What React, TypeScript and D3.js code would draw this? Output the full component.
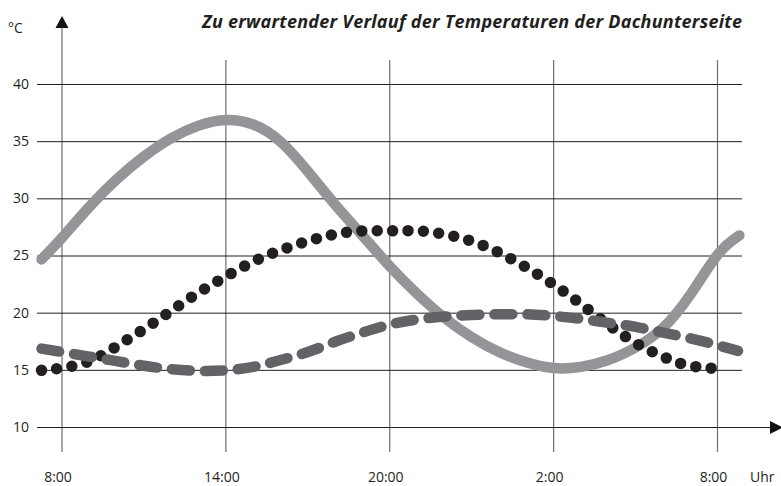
import React from 'react';
import * as d3 from 'd3';

// hours after 8:00 -> °C
const roofSurface: [number, number][] = [
  [-0.75, 24.7], [0, 26.6], [1, 29.3], [2, 31.7], [3, 33.7], [4, 35.3], [5, 36.4],
  [6, 36.9], [7, 36.5], [8, 35.0], [9, 32.4], [10, 29.5], [11, 26.8], [12, 24.1],
  [13, 21.7], [14, 19.6], [15, 17.9], [16, 16.6], [17, 15.7], [18, 15.2], [19, 15.3],
  [20, 15.9], [21, 17.0], [22, 18.7], [23, 21.6], [24, 25.1], [24.8, 26.8],
];

const dotted: [number, number][] = [
  [-0.75, 15.0], [0, 15.2], [1, 15.8], [2, 17.1], [3, 18.6], [4, 20.2], [5, 21.8],
  [6, 23.2], [7, 24.5], [8, 25.5], [9, 26.3], [10, 26.9], [11, 27.2], [12, 27.2],
  [13, 27.2], [14, 26.9], [15, 26.3], [16, 25.3], [17, 24.0], [18, 22.5], [19, 20.8],
  [20, 19.0], [21, 17.4], [22, 16.2], [23, 15.4], [24, 15.15], [24.3, 15.0],
];

const underside: [number, number][] = [
  [-0.75, 16.9], [0, 16.6], [1, 16.2], [2, 15.8], [3, 15.4], [4, 15.1], [5, 14.95],
  [6, 15.0], [7, 15.3], [8, 15.9], [9, 16.6], [10, 17.5], [11, 18.3], [12, 19.0],
  [13, 19.45], [14, 19.7], [15, 19.85], [16, 19.9], [17, 19.9], [18, 19.75], [19, 19.5],
  [20, 19.15], [21, 18.8], [22, 18.3], [23, 17.8], [24, 17.2], [24.75, 16.7],
];

const xTicks = [0, 6, 12, 18, 24];
const xLabels = ['8:00', '14:00', '20:00', '2:00', '8:00'];
const yTicks = [10, 15, 20, 25, 30, 35, 40];

const W = 781;
const H = 486;
const font = '"Open Sans", "DejaVu Sans", sans-serif';

export default function App() {
  const x = d3.scaleLinear().domain([0, 24]).range([62, 717.5]);
  const y = d3.scaleLinear().domain([10, 40]).range([427.5, 84.5]);

  const line = d3.line<[number, number]>()
    .x(d => x(d[0]))
    .y(d => y(d[1]))
    .curve(d3.curveNatural);

  const gridLeft = 37;
  const gridRight = 742;
  const top = 60;
  const bottom = 452;

  return (
    <div style={{ position: 'absolute', left: 0, top: 0 }}>
      <svg width={W} height={H} style={{ display: 'block', fontFamily: font }}>
        <rect width={W} height={H} fill="#fff" />

        {/* vertical grid */}
        {xTicks.map((t, i) => (
          <line key={'v' + i} x1={x(t)} x2={x(t)} y1={i === 0 ? 26 : top} y2={bottom}
            stroke="#6d6e71" strokeWidth={1.2} />
        ))}
        {/* horizontal grid */}
        {yTicks.map(t => (
          <line key={'h' + t} x1={gridLeft} x2={t === 10 ? 772 : gridRight} y1={y(t)} y2={y(t)}
            stroke="#231f20" strokeWidth={1} />
        ))}
        {/* arrows */}
        <path d={`M${x(0)},16 L${x(0) - 6.5},28 L${x(0) + 6.5},28 Z`} fill="#111" />
        <path d={`M${W + 2},${y(10)} L${770},${y(10) - 6.5} L${770},${y(10) + 6.5} Z`} fill="#111" />

        {/* series */}
        <path d={line(roofSurface) || ''} fill="none" stroke="#939598" strokeWidth={10.5}
          strokeLinecap="round" />
        <path d={line(dotted) || ''} fill="none" stroke="#231f20" strokeWidth={11.5}
          strokeLinecap="round" strokeDasharray="0 15.4" />
        <path d={line(underside) || ''} fill="none" stroke="#626366" strokeWidth={10.5}
          strokeLinecap="round" strokeDasharray="18 15" />

        {/* y labels */}
        {yTicks.map(t => (
          <text key={'yl' + t} x={29} y={y(t)} dy="0.32em" textAnchor="end" fontSize={14}
            fill="#231f20">{t}</text>
        ))}
        <text x={8} y={33} fontSize={14} fill="#231f20">°C</text>

        {/* x labels */}
        {xTicks.map((t, i) => (
          <text key={'xl' + i} x={x(t) - 4} y={482} textAnchor="middle" fontSize={14}
            fill="#231f20">{xLabels[i]}</text>
        ))}
        <text x={750} y={482} fontSize={14} fill="#231f20">Uhr</text>

        <text x={202} y={28} fontSize={18} fontWeight="bold" fontStyle="italic" fill="#231f20"
          textLength={540} lengthAdjust="spacing">
          Zu erwartender Verlauf der Temperaturen der Dachunterseite
        </text>
      </svg>
    </div>
  );
}
